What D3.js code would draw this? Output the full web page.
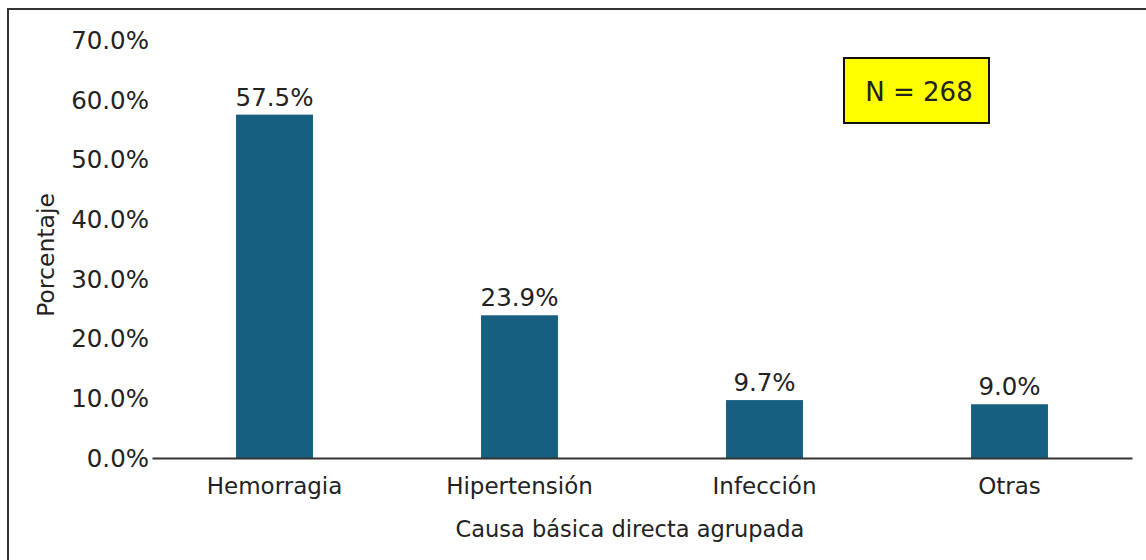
<!DOCTYPE html>
<html>
<head>
<meta charset="utf-8">
<script src="https://cdn.jsdelivr.net/npm/d3@7"></script>
<style>
  body { margin: 0; background: #fff; }
  svg { display: block; font-family: "DejaVu Sans", sans-serif; }
</style>
</head>
<body>
<svg id="chart" width="1146" height="560"></svg>
<script>
const categories = ["Hemorragia", "Hipertensión", "Infección", "Otras"];
const values = [57.5, 23.9, 9.7, 9.0];
const yTicks = [0, 10, 20, 30, 40, 50, 60, 70];
const sampleNote = "N = 268";

const svg = d3.select("#chart");
const textColor = "#222";

// outer frame, runs off the right and bottom edges like the original
svg.append("rect")
  .attr("x", 8).attr("y", 9)
  .attr("width", 1160).attr("height", 580)
  .attr("fill", "none")
  .attr("stroke", "#333")
  .attr("stroke-width", 2);

const x = d3.scaleBand()
  .domain(categories)
  .range([152, 1132])
  .paddingInner(0.686)
  .paddingOuter(0.343);

const y = d3.scaleLinear()
  .domain([0, 70])
  .range([458, 40]);

// y tick labels (no axis line, no ticks)
svg.append("g")
  .selectAll("text")
  .data(yTicks)
  .join("text")
  .attr("x", 149)
  .attr("y", d => y(d))
  .attr("dy", "0.36em")
  .attr("text-anchor", "end")
  .attr("font-size", 24.5)
  .attr("fill", textColor)
  .text(d => d.toFixed(1) + "%");

svg.append("g")
  .selectAll("rect")
  .data(values)
  .join("rect")
  .attr("x", (d, i) => x(categories[i]))
  .attr("y", d => y(d))
  .attr("width", x.bandwidth())
  .attr("height", d => y(0) - y(d))
  .attr("fill", "#175f80");

svg.append("g")
  .selectAll("text")
  .data(values)
  .join("text")
  .attr("x", (d, i) => x(categories[i]) + x.bandwidth() / 2)
  .attr("y", d => y(d) - 9)
  .attr("text-anchor", "middle")
  .attr("font-size", 24.5)
  .attr("fill", textColor)
  .text(d => d.toFixed(1) + "%");

// x axis
const xAxis = svg.append("g")
  .attr("transform", `translate(0,${y(0)})`)
  .call(d3.axisBottom(x).tickSize(0).tickPadding(20));
xAxis.select(".domain").attr("stroke", "#333").attr("stroke-width", 2);
xAxis.selectAll("text")
  .attr("font-size", 23)
  .attr("font-family", "DejaVu Sans, sans-serif")
  .attr("fill", textColor);

svg.append("text")
  .attr("x", 630)
  .attr("y", 537)
  .attr("text-anchor", "middle")
  .attr("font-size", 22.5)
  .attr("fill", textColor)
  .text("Causa básica directa agrupada");

svg.append("text")
  .attr("transform", "translate(54,255) rotate(-90)")
  .attr("text-anchor", "middle")
  .attr("font-size", 23.5)
  .attr("fill", textColor)
  .text("Porcentaje");

// N box
svg.append("rect")
  .attr("x", 844).attr("y", 58)
  .attr("width", 145).attr("height", 65)
  .attr("fill", "#ffff00")
  .attr("stroke", "#111")
  .attr("stroke-width", 2);
svg.append("text")
  .attr("x", 919)
  .attr("y", 92)
  .attr("dy", "0.36em")
  .attr("text-anchor", "middle")
  .attr("font-size", 26)
  .attr("fill", textColor)
  .text(sampleNote);
</script>
</body>
</html>
